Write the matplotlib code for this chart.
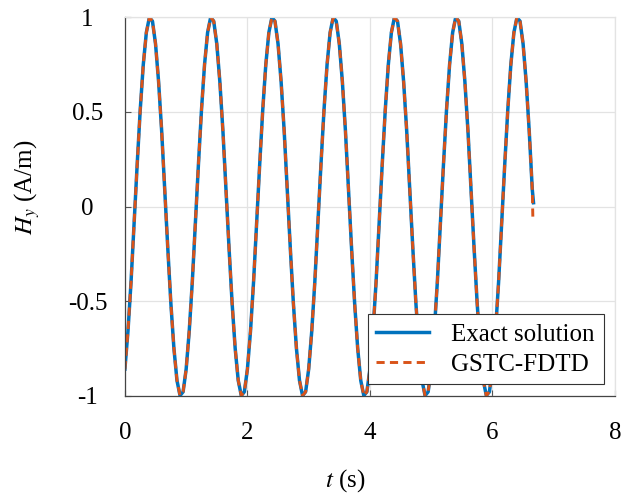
import numpy as np
import matplotlib
matplotlib.use("Agg")
import matplotlib.pyplot as plt

plt.rcParams['font.family'] = ['Liberation Serif', 'DejaVu Serif']
plt.rcParams['mathtext.fontset'] = 'stix'

# time samples (s)
t_exact = [round(0.05 * i, 2) for i in range(134)] + [6.67]
# values (A/m)
h_exact = [
    -0.86, -0.66, -0.40, -0.09, 0.22, 0.51, 0.75, 0.92, 1.00, 0.98,
    0.86, 0.66, 0.40, 0.09, -0.22, -0.51, -0.75, -0.92, -1.00, -0.98,
    -0.86, -0.66, -0.40, -0.09, 0.22, 0.51, 0.75, 0.92, 1.00, 0.98,
    0.86, 0.66, 0.40, 0.09, -0.22, -0.51, -0.75, -0.92, -1.00, -0.98,
    -0.86, -0.66, -0.40, -0.09, 0.22, 0.51, 0.75, 0.92, 1.00, 0.98,
    0.86, 0.66, 0.40, 0.09, -0.22, -0.51, -0.75, -0.92, -1.00, -0.98,
    -0.86, -0.66, -0.40, -0.09, 0.22, 0.51, 0.75, 0.92, 1.00, 0.98,
    0.86, 0.66, 0.40, 0.09, -0.22, -0.51, -0.75, -0.92, -1.00, -0.98,
    -0.86, -0.66, -0.40, -0.09, 0.22, 0.51, 0.75, 0.92, 1.00, 0.98,
    0.86, 0.66, 0.40, 0.09, -0.22, -0.51, -0.75, -0.92, -1.00, -0.98,
    -0.86, -0.66, -0.40, -0.09, 0.22, 0.51, 0.75, 0.92, 1.00, 0.98,
    0.86, 0.66, 0.40, 0.09, -0.22, -0.51, -0.75, -0.92, -1.00, -0.98,
    -0.86, -0.66, -0.40, -0.09, 0.22, 0.51, 0.75, 0.92, 1.00, 0.98,
    0.86, 0.66, 0.40, 0.09,
    0.02,
]
t_fdtd = t_exact[:-1] + [6.66]
h_fdtd = h_exact[:-1] + [-0.07]

x_ticks = [0, 2, 4, 6, 8]
x_ticklabels = ['0', '2', '4', '6', '8']
y_ticks = [-1, -0.5, 0, 0.5, 1]
y_ticklabels = ['-1', '-0.5', '0', '0.5', '1']

FS = 18

fig = plt.figure(figsize=(6.34, 4.97), dpi=100)
ax = fig.add_axes([0.197, 0.204, 0.773, 0.761])

ax.plot(t_exact, h_exact, color='#0072BD', lw=2.5, label='Exact solution')
ax.plot(t_fdtd, h_fdtd, color='#D95319', lw=2.1, dashes=(2.8, 1.8), label='GSTC-FDTD')

ax.set_xlim(0, 8)
ax.set_ylim(-1, 1)
ax.set_xticks(x_ticks)
ax.set_xticklabels(x_ticklabels)
ax.set_yticks(y_ticks)
ax.set_yticklabels(y_ticklabels, ha='center')
ax.grid(True, color='#e3e3e3', lw=0.9)
ax.set_axisbelow(True)

for s in ['left', 'bottom']:
    ax.spines[s].set_color('#444444')
    ax.spines[s].set_linewidth(0.9)
for s in ['top', 'right']:
    ax.spines[s].set_color('#e3e3e3')
    ax.spines[s].set_linewidth(0.9)

ax.tick_params(axis='both', direction='in', length=4, width=0.8, color='#555555',
               labelsize=FS)
ax.tick_params(axis='x', pad=19)
ax.tick_params(axis='y', pad=27)

ax.set_xlabel(r'$t$ (s)', fontsize=FS)
ax.xaxis.set_label_coords(0.449, -0.19)
ax.set_ylabel(r'$H_y$ (A/m)', fontsize=FS)
ax.yaxis.set_label_coords(-0.17, 0.55)

leg = ax.legend(loc='lower right', fontsize=FS, frameon=True, fancybox=False,
                framealpha=1, edgecolor='#333333', handlelength=2.1,
                borderaxespad=0.45, borderpad=0.35, labelspacing=0.3,
                handletextpad=0.9)
leg.get_frame().set_linewidth(0.8)

fig.savefig('out.png', dpi=100)
